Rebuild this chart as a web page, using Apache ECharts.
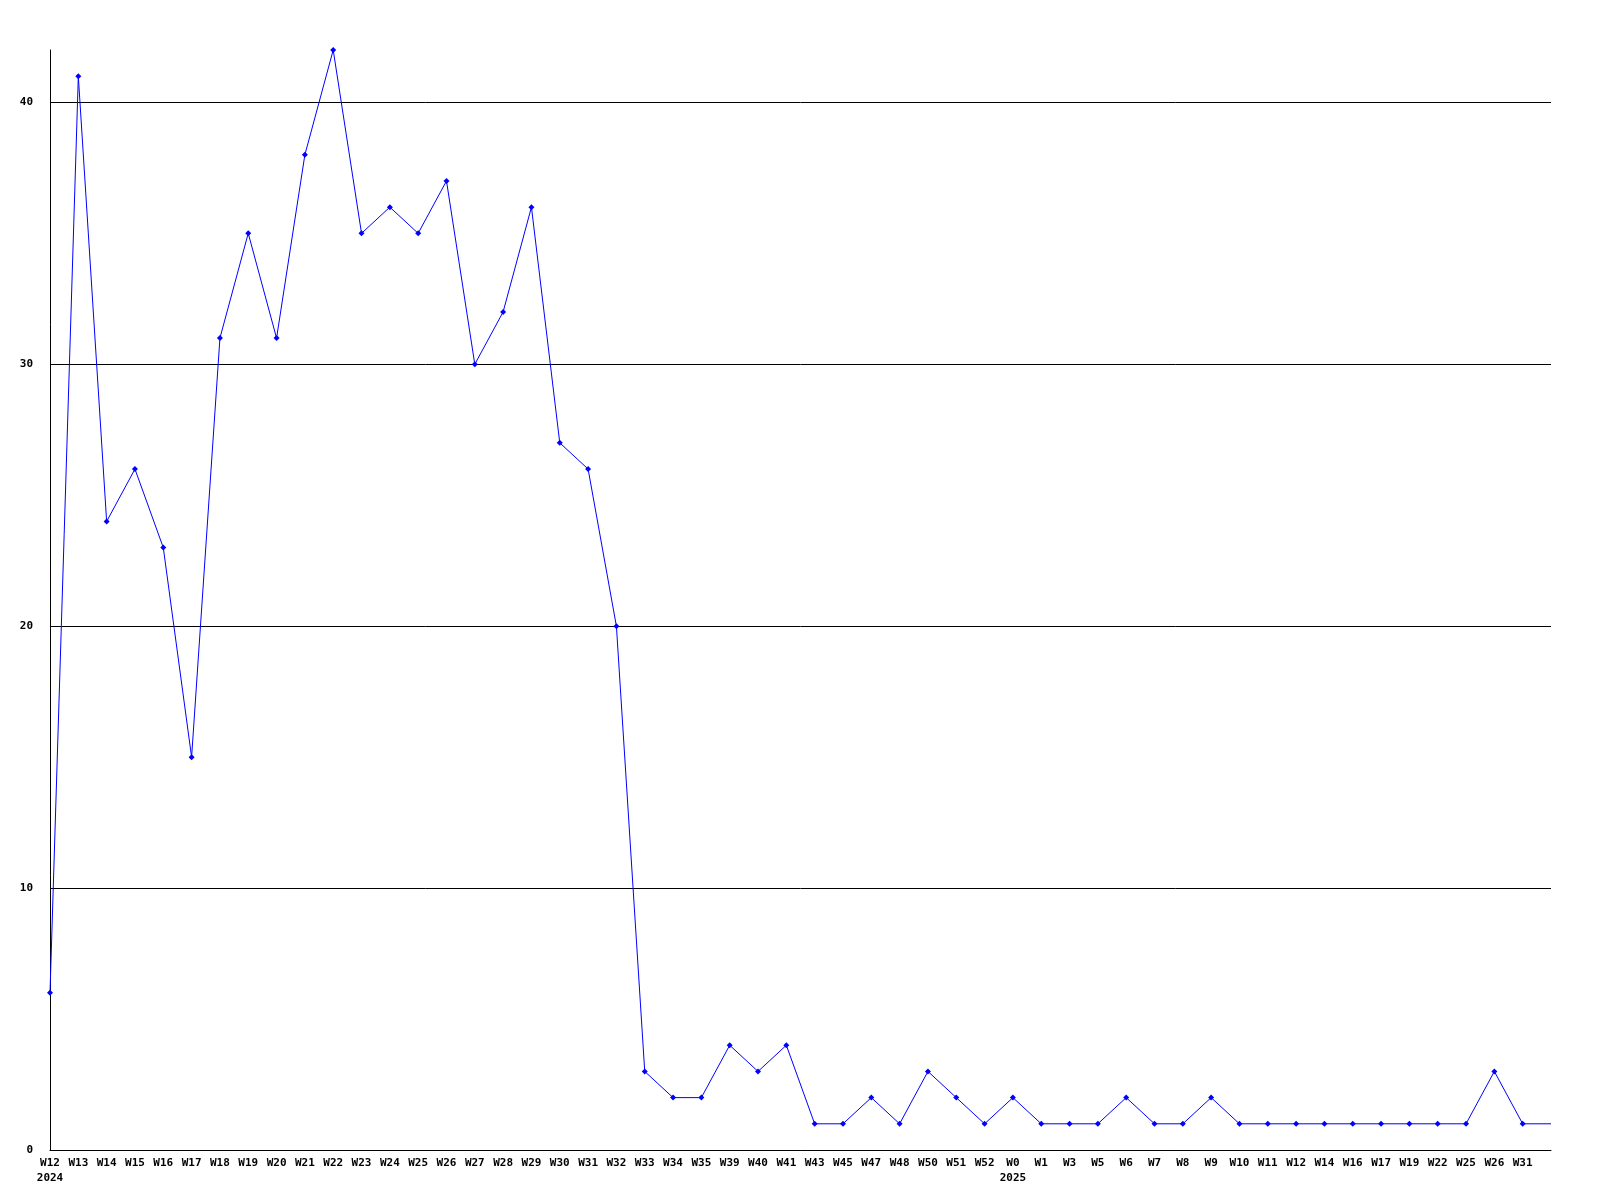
<!DOCTYPE html>
<html>
<head>
<meta charset="utf-8">
<script src="https://cdn.jsdelivr.net/npm/echarts@6/dist/echarts.min.js"></script>
<style>html,body{margin:0;padding:0;background:#fff;}#c{width:1600px;height:1200px;}</style>
</head>
<body>
<div id="c"></div>
<script>
const weeks = ["W12","W13","W14","W15","W16","W17","W18","W19","W20","W21","W22","W23","W24","W25","W26","W27","W28","W29","W30","W31","W32","W33","W34","W35","W39","W40","W41","W43","W45","W47","W48","W50","W51","W52","W0","W1","W3","W5","W6","W7","W8","W9","W10","W11","W12","W14","W16","W17","W19","W22","W25","W26","W31",""];
const years = ["2024","","","","","","","","","","","","","","","","","","","","","","","","","","","","","","","","","","2025","","","","","","","","","","","","","","","","","","",""];
const values = [6,41,24,26,23,15,31,35,31,38,42,35,36,35,37,30,32,36,27,26,20,3,2,2,4,3,4,1,1,2,1,3,2,1,2,1,1,1,2,1,1,2,1,1,1,1,1,1,1,1,1,3,1,1];
const yTicks = [0,10,20,30,40];

const categories = weeks.map((w,i)=> i + '|' + w + (years[i] ? '\n' + years[i] : ''));
const seriesData = values.map((v,i)=> i === values.length-1 ? {value:v, symbol:'none'} : v);

const chart = echarts.init(document.getElementById('c'), null, {renderer:'canvas'});
chart.setOption({
  animation:false,
  backgroundColor:'#fff',
  grid:{left:50,right:49,top:50,bottom:50,containLabel:false},
  xAxis:{
    type:'category',
    data:categories,
    boundaryGap:false,
    axisLine:{show:true,lineStyle:{color:'#000',width:1}},
    axisTick:{show:false},
    splitLine:{show:false},
    axisLabel:{
      interval:0,
      margin:6,
      color:'#000',
      fontFamily:'DejaVu Sans Mono, Liberation Mono, monospace',
      fontWeight:'bold',
      fontSize:11,
      lineHeight:15,
      formatter:(v)=> v.split('|')[1]
    }
  },
  yAxis:{
    type:'value',
    min:0,
    max:42,
    interval:10,
    axisLine:{show:true,lineStyle:{color:'#000',width:1}},
    axisTick:{show:false},
    splitLine:{show:true,showMaxLine:false,lineStyle:{color:'#000',width:1}},
    axisLabel:{
      showMaxLabel:false,
      margin:17,
      color:'#000',
      fontFamily:'DejaVu Sans Mono, Liberation Mono, monospace',
      fontWeight:'bold',
      fontSize:11,
      formatter:(v)=> yTicks.includes(v) ? String(v) : ''
    }
  },
  series:[{
    type:'line',
    data:seriesData,
    symbol:'diamond',
    symbolSize:6,
    showAllSymbol:true,
    lineStyle:{color:'#0000ff',width:1},
    itemStyle:{color:'#0000ff'},
    clip:false
  }]
});
</script>
</body>
</html>
